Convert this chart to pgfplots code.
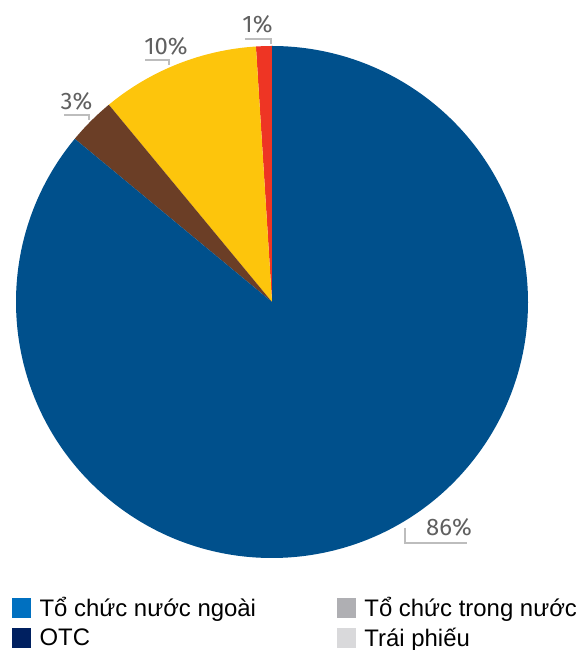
\documentclass[border=0pt]{standalone}
\usepackage{pgfplots}
\usepackage{pgfplotstable}
\pgfplotsset{compat=1.18}
\usepackage{fontspec}
\setmainfont{Liberation Sans}
\newfontfamily\labelfont{Fira Sans}

\definecolor{pBlue}{HTML}{00508C}
\definecolor{pBrown}{HTML}{6B3E26}
\definecolor{pYellow}{HTML}{FDC50C}
\definecolor{pRed}{HTML}{EE3524}
\definecolor{lgBlue}{HTML}{0070C0}
\definecolor{lgNavy}{HTML}{002060}
\definecolor{lgGray}{HTML}{AFAFB3}
\definecolor{lgLight}{HTML}{D9D9DB}
\definecolor{lblText}{HTML}{606060}
\definecolor{lblLine}{HTML}{BDBDBD}

% shares, counter-clockwise from 12 o'clock
\pgfplotstableread{
share color
1 pRed
10 pYellow
3 pBrown
86 pBlue
}\piedata

\begin{document}
\begin{tikzpicture}
\begin{axis}[
  x=1bp, y=1bp,
  xmin=0, xmax=580, ymin=0, ymax=650,
  hide axis, clip=false,
  legend columns=2,
  legend cell align=left,
  legend image code/.code={\fill[#1] (0bp,-9.5bp) rectangle (18bp,9.5bp); \path (25bp,0bp);},
  legend style={at={(axis cs:12,55)}, anchor=north west, draw=none, fill=none,
    inner sep=0pt, font=\fontsize{24}{28}\selectfont, row sep=6bp,
    /tikz/column 2/.style={column sep=79bp}},
]
\addlegendimage{lgBlue}\addlegendentry{Tổ chức nước ngoài}
\addlegendimage{lgGray}\addlegendentry{Tổ chức trong nước}
\addlegendimage{lgNavy}\addlegendentry{OTC}
\addlegendimage{lgLight}\addlegendentry{Trái phiếu}

\def\startangle{90}
\pgfplotsforeachungrouped \i in {0,...,3}{%
  \pgfplotstablegetelem{\i}{share}\of\piedata \let\share\pgfplotsretval
  \pgfplotstablegetelem{\i}{color}\of\piedata \let\col\pgfplotsretval
  \pgfmathsetmacro\endangle{\startangle+3.6*\share}
  \edef\temp{\noexpand\fill[\col] (axis cs:272,348) -- ++(\startangle:256bp)
    arc[start angle=\startangle, end angle=\endangle, radius=256bp] -- cycle;}
  \temp
  \let\startangle\endangle
}

% labels with leader lines
\begin{scope}[lblLine, line width=1.4bp]
\draw (axis cs:405,122) -- (axis cs:405,107) -- (axis cs:467,107);
\draw (axis cs:245,611) -- (axis cs:271,611) -- (axis cs:271,606);
\draw (axis cs:145,590) -- (axis cs:169,590) -- (axis cs:169,585);
\draw (axis cs:64,535) -- (axis cs:89,535) -- (axis cs:89,530);
\end{scope}
\begin{scope}[every node/.style={anchor=base, text=lblText, inner sep=0pt,
    font=\labelfont\fontsize{24}{28}\selectfont}]
\node at (axis cs:449,114) {86\%};
\node at (axis cs:257.5,617) {1\%};
\node at (axis cs:166,595) {10\%};
\node at (axis cs:76.5,540) {3\%};
\end{scope}
\end{axis}
\pgfresetboundingbox
\useasboundingbox (current axis.south west) rectangle (current axis.north east);
\end{tikzpicture}
\end{document}
